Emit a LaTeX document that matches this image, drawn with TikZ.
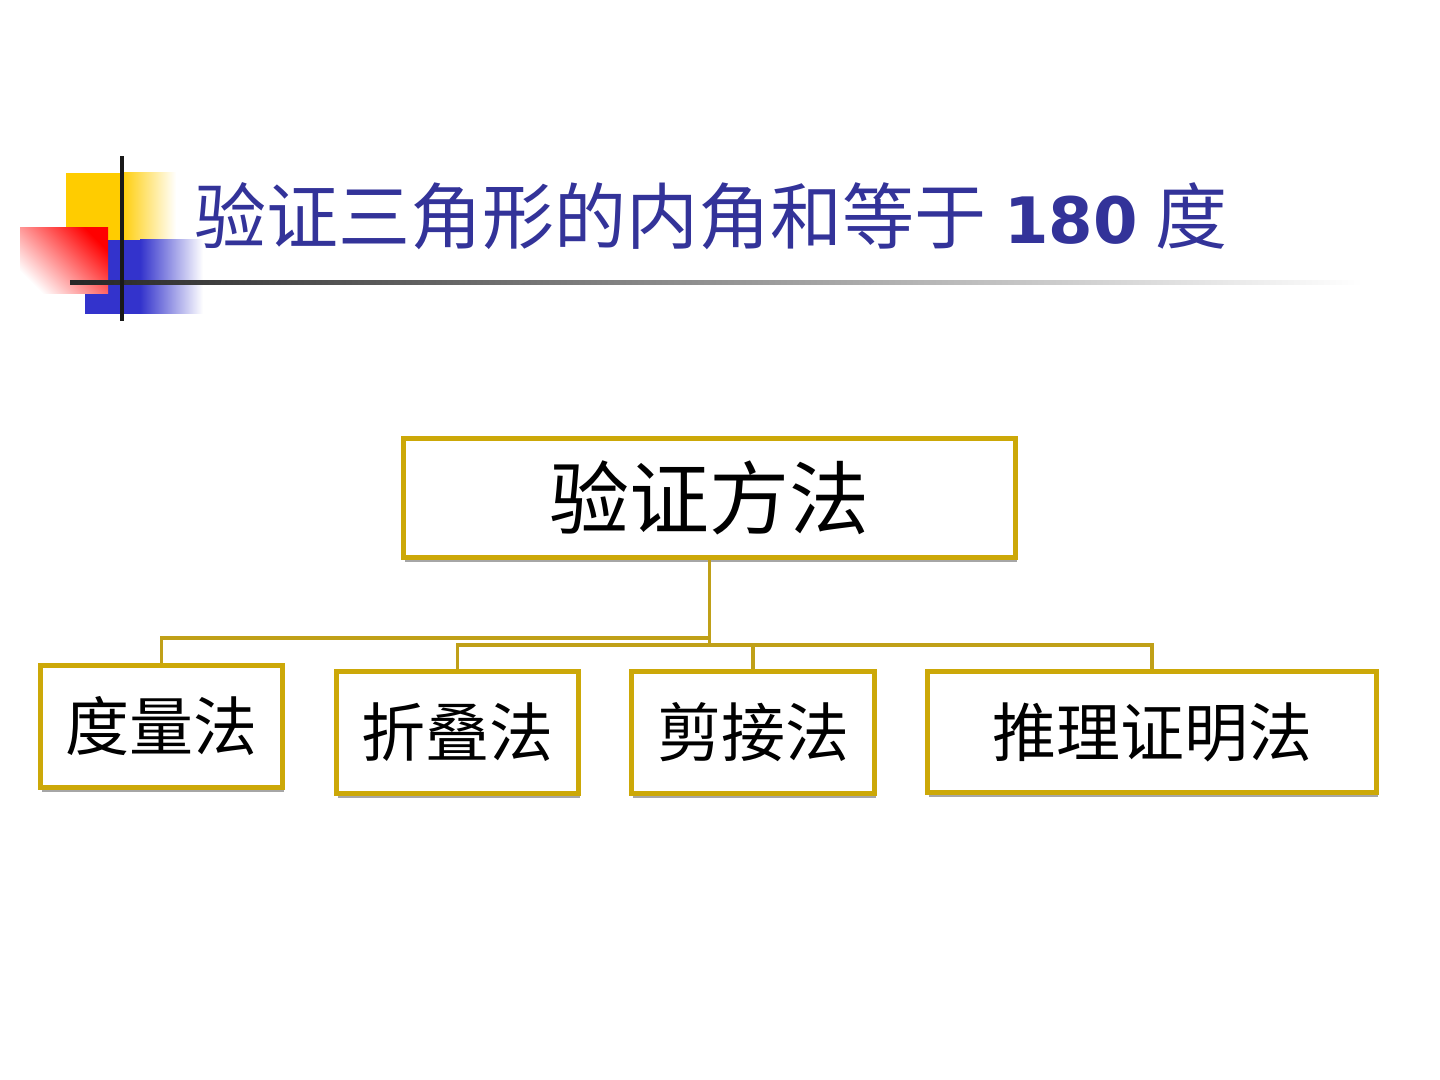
\documentclass[tikz,border=0pt]{standalone}
\usepackage{fontspec}
\usepackage{tikz}
\usetikzlibrary{shadows}
\newfontfamily\cjk{Noto Sans CJK SC}
\newfontfamily\numfont{DejaVu Sans}
\definecolor{titleblue}{RGB}{51,51,153}
\definecolor{gold}{RGB}{204,168,8}
\definecolor{goldline}{RGB}{192,160,24}
\definecolor{decoyel}{RGB}{255,204,0}
\definecolor{decored}{RGB}{255,0,0}
\definecolor{decoblue}{RGB}{51,51,204}

\begin{document}
\begin{tikzpicture}[
  x=0.5pt, y=-0.5pt,
  box/.style={rectangle, draw=gold, line width=2.5pt, fill=white,
              minimum height=60pt, inner sep=0pt, font=\cjk,
              drop shadow={shadow xshift=0.5pt, shadow yshift=-2.2pt,
                           fill=black!50, opacity=0.7}},
  link/.style={draw=goldline, line width=1.6pt}
]
\useasboundingbox (0,0) rectangle (1440,1080);

% corner decoration
\fill[decoyel] (66,173) rectangle (120,240);
\shade[left color=decoyel, right color=white] (120,173) rectangle (176,240);
\fill[decoblue] (85,240) rectangle (140,314);
\shade[left color=decoblue, right color=white] (140,240) rectangle (203,314);
\shade[top color=decored, bottom color=white, shading angle=-45]
  (20,228) rectangle (108,294);
\shade[left color=black!85, right color=white] (70,281) rectangle (1362,285);
\fill[black!90] (120,156) rectangle (124,321);

% title
\node[anchor=west, text=titleblue, inner sep=0pt] (title) at (194,216)
  {\cjk\fontsize{36pt}{40pt}\selectfont 验证三角形的内角和等于\hspace{9pt}%
   {\numfont\bfseries\fontsize{32pt}{36pt}\selectfont 180}\hspace{9pt}度};

% tree
\node[box, minimum width=306pt, minimum height=59.5pt] (root) at (709.5,498)
  {\fontsize{40pt}{44pt}\selectfont 验证方法};
\node[box, minimum width=121pt, minimum height=61pt] (m1) at (161.5,726.5)
  {\fontsize{32pt}{36pt}\selectfont 度量法};
\node[box, minimum width=121pt, minimum height=61pt] (m2) at (457.5,732.5)
  {\fontsize{32pt}{36pt}\selectfont 折叠法};
\node[box, minimum width=121.5pt, minimum height=61pt] (m3) at (753,732.5)
  {\fontsize{32pt}{36pt}\selectfont 剪接法};
\node[box, minimum width=224.5pt, minimum height=60.5pt] (m4) at (1152,732)
  {\fontsize{32pt}{36pt}\selectfont 推理证明法};

\coordinate (busa) at (0,638);
\coordinate (busb) at (0,645);
\draw[link] (root.south) -- (root.south |- busb);
\draw[link] (root.south |- busa) -| (m1.north);
\draw[link] (m2.north) |- (m4.north |- busb) -- (m4.north);
\draw[link] (m3.north) -- (m3.north |- busb);
\end{tikzpicture}
\end{document}
